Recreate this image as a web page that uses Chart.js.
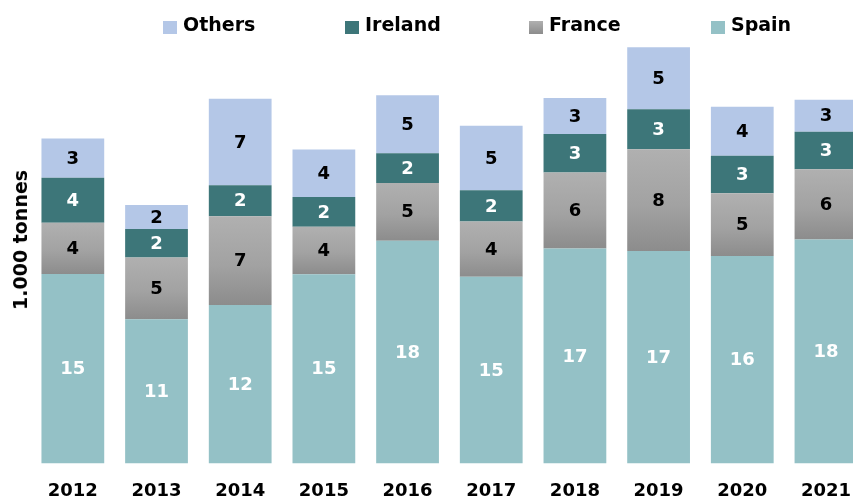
<!DOCTYPE html>
<html>
<head>
<meta charset="utf-8">
<script src="https://cdn.jsdelivr.net/npm/chart.js@4.4.1/dist/chart.umd.min.js"></script>
<style>
  html, body { margin: 0; padding: 0; width: 853px; height: 497px; overflow: hidden; background: #fff; }
  #wrap { position: relative; width: 853px; height: 497px; overflow: hidden; }
  canvas { position: absolute; left: 0; top: 0; }
  .lg { position: absolute; top: 13px; height: 22px; font: bold 19px "DejaVu Sans", sans-serif; line-height: 22px; color: #000; white-space: nowrap; }
  .lg i { position: absolute; left: 0; top: 8px; width: 14px; height: 13px; }
  .lg span { position: absolute; left: 20px; top: 0; }
  #ytitle { position: absolute; left: 20px; top: 240px; transform: translate(-50%, -50%) rotate(-90deg); font: bold 19px "DejaVu Sans", sans-serif; white-space: nowrap; color: #000; }
</style>
</head>
<body>
<div id="wrap">
  <canvas id="c" width="868" height="519" style="width:868px;height:519px"></canvas>
  <div id="legend"></div>
  <div id="ytitle">1.000 tonnes</div>
</div>
<script>
const years = ["2012","2013","2014","2015","2016","2017","2018","2019","2020","2021"];
const spain   = [14.9, 11.34, 12.47, 14.89, 17.52, 14.68, 16.91, 16.71, 16.31, 17.62];
const france  = [4.03, 4.86, 6.97, 3.73, 4.55, 4.36, 5.97, 8.0, 4.94, 5.52];
const ireland = [3.55, 2.24, 2.45, 2.34, 2.34, 2.45, 3.04, 3.16, 2.95, 2.95];
const others  = [3.08, 1.89, 6.81, 3.73, 4.55, 5.08, 2.84, 4.87, 3.87, 2.53];
const seriesNames = ["Spain", "France", "Ireland", "Others"];
const seriesColors = ["#94C1C6", "#A0A0A0", "#3D7679", "#B4C7E7"];
const labelColors = ["#ffffff", "#000000", "#ffffff", "#000000"];
const legendOrder = [3, 2, 1, 0];
const legendLefts = [163, 345, 529, 711];

function franceFill(ctx) {
  const chart = ctx.chart;
  if (!chart.chartArea || !chart.scales.y) return seriesColors[1];
  const i = ctx.dataIndex;
  const y = chart.scales.y;
  const y0 = y.getPixelForValue(spain[i] + france[i]);
  const y1 = y.getPixelForValue(spain[i]);
  if (!isFinite(y0) || !isFinite(y1)) return seriesColors[1];
  const g = chart.ctx.createLinearGradient(0, y0, 0, y1);
  g.addColorStop(0, "#B0B0B0");
  g.addColorStop(0.55, "#A2A2A2");
  g.addColorStop(1, "#8C8C8C");
  return g;
}

const valueLabels = {
  id: "valueLabels",
  afterDatasetsDraw(chart) {
    const c = chart.ctx;
    c.save();
    c.font = 'bold 18px "DejaVu Sans", sans-serif';
    c.textAlign = "center";
    c.textBaseline = "middle";
    chart.data.datasets.forEach((ds, di) => {
      const meta = chart.getDatasetMeta(di);
      meta.data.forEach((el, i) => {
        const p = el.getProps(["x", "y", "base"], true);
        c.fillStyle = labelColors[di];
        c.fillText(String(Math.round(ds.data[i])), p.x, (p.y + p.base) / 2 + 1);
      });
    });
    c.restore();
  }
};

const dataArrays = [spain, france, ireland, others];
new Chart(document.getElementById("c"), {
  type: "bar",
  data: {
    labels: years,
    datasets: dataArrays.map((d, k) => ({
      label: seriesNames[k],
      data: d,
      backgroundColor: k === 1 ? franceFill : seriesColors[k],
      borderWidth: 0,
      categoryPercentage: 1.0,
      barPercentage: 0.75
    }))
  },
  options: {
    responsive: false,
    animation: false,
    devicePixelRatio: 1,
    layout: { padding: { left: 31, right: 0, top: 44, bottom: 0 } },
    plugins: { legend: { display: false }, tooltip: { enabled: false } },
    scales: {
      x: {
        stacked: true,
        grid: { display: false, drawTicks: false },
        border: { display: false },
        ticks: { color: "#000", font: { family: "DejaVu Sans", size: 18, weight: "bold" }, padding: 17 }
      },
      y: {
        stacked: true,
        display: false,
        min: 0,
        max: 33
      }
    }
  },
  plugins: [valueLabels]
});

const lg = document.getElementById("legend");
legendOrder.forEach((k, j) => {
  const d = document.createElement("div");
  d.className = "lg";
  d.style.left = legendLefts[j] + "px";
  d.innerHTML = '<i style="background:' + (k === 1 ? "linear-gradient(#B0B0B0,#8C8C8C)" : seriesColors[k]) + '"></i><span>' + seriesNames[k] + "</span>";
  lg.appendChild(d);
});
</script>
</body>
</html>
